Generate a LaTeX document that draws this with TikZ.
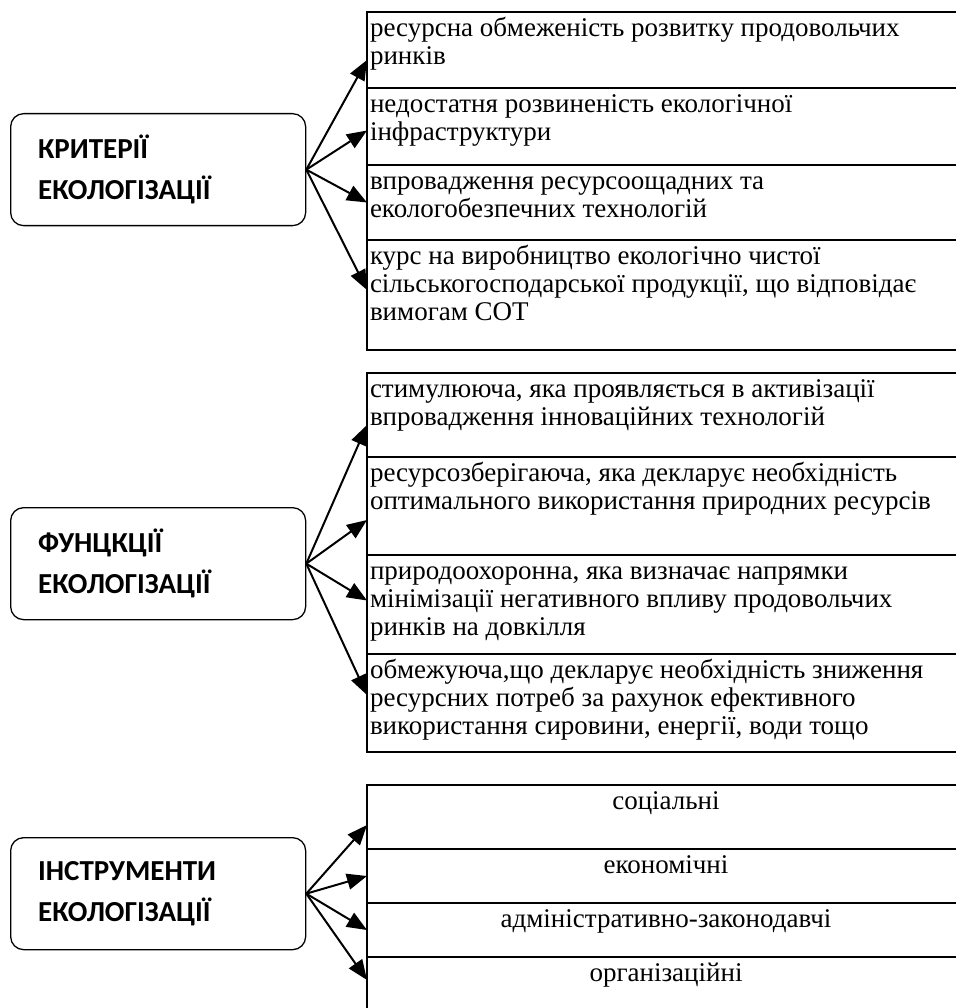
\documentclass[tikz,border=0pt]{standalone}
\usepackage{fontspec}
\setmainfont{Liberation Serif}
\newfontfamily\headfont{Carlito}
\usetikzlibrary{positioning,arrows.meta}

\newcommand{\boxtext}[2]{\parbox[c][#1][t]{592pt}{\vspace*{5pt}\strut #2}}
\newcommand{\boxmid}[2]{\parbox[c][#1][t]{592pt}{\centering\vspace*{5pt}\strut #2}}

\begin{document}
\begin{tikzpicture}[x=1pt,y=-1pt,
    head/.style={draw, line width=1.3pt, rounded corners=13pt, anchor=north west,
      minimum width=295pt, minimum height=112pt, text width=240pt, align=left,
      font=\headfont\bfseries\fontsize{29}{41}\selectfont},
    item/.style={draw, line width=1.5pt, inner xsep=3pt, inner ysep=0pt, outer sep=0pt,
      font=\fontsize{27}{28}\selectfont},
    arr/.style={-{Triangle[length=20pt,width=16pt]}, line width=2pt}]
    \path[use as bounding box] (0,0) rectangle (955,1008);

    \node[head] (krit) at (10,113) {КРИТЕРІЇ\\ЕКОЛОГІЗАЦІЇ};
    \node[item, anchor=north west] (k1) at (367,12) {\boxtext{76pt}{ресурсна обмеженість розвитку продовольчих\\ринків}};
    \node[item, below=0pt of k1] (k2) {\boxtext{77pt}{недостатня розвиненість екологічної\\інфраструктури}};
    \node[item, below=0pt of k2] (k3) {\boxtext{75pt}{впровадження ресурсоощадних та\\екологобезпечних технологій}};
    \node[item, below=0pt of k3] (k4) {\boxtext{110pt}{курс на виробництво екологічно чистої\\сільськогосподарської продукції, що відповідає\\вимогам СОТ}};
    \draw[arr] (krit.east) -- ([yshift=-10pt]k1.west);
    \draw[arr] (krit.east) -- ([yshift=-4pt]k2.west);
    \draw[arr] (krit.east) -- (k3.west);
    \draw[arr] (krit.east) -- ([yshift=5pt]k4.west);

    \node[head] (funk) at (10,507) {ФУНЦКЦІЇ\\ЕКОЛОГІЗАЦІЇ};
    \node[item, anchor=north west] (f1) at (367,373) {\boxtext{84pt}{стимулююча, яка проявляється в активізації\\впровадження інноваційних технологій}};
    \node[item, below=0pt of f1] (f2) {\boxtext{98pt}{ресурсозберігаюча, яка декларує необхідність\\оптимального використання природних ресурсів}};
    \node[item, below=0pt of f2] (f3) {\boxtext{99pt}{природоохоронна, яка визначає напрямки\\мінімізації негативного впливу продовольчих\\ринків на довкілля}};
    \node[item, below=0pt of f3] (f4) {\boxtext{98pt}{обмежуюча,що декларує необхідність зниження\\ресурсних потреб за рахунок ефективного\\використання сировини, енергії, води тощо}};
    \draw[arr] (funk.east) -- ([yshift=-10pt]f1.west);
    \draw[arr] (funk.east) -- ([yshift=-14pt]f2.west);
    \draw[arr] (funk.east) -- ([yshift=4pt]f3.west);
    \draw[arr] (funk.east) -- ([yshift=8pt]f4.west);

    \node[head] (instr) at (10,837) {ІНСТРУМЕНТИ\\ЕКОЛОГІЗАЦІЇ};
    \node[item, anchor=north west] (i1) at (367,785) {\boxmid{64pt}{соціальні}};
    \node[item, below=0pt of i1] (i2) {\boxmid{54pt}{економічні}};
    \node[item, below=0pt of i2] (i3) {\boxmid{54pt}{адміністративно-законодавчі}};
    \node[item, below=0pt of i3] (i4) {\boxmid{64pt}{організаційні}};
    \draw[arr] (instr.east) -- ([yshift=-8pt]i1.west);
    \draw[arr] (instr.east) -- (i2.west);
    \draw[arr] (instr.east) -- (i3.west);
    \draw[arr] (instr.east) -- ([yshift=9pt]i4.west);
\end{tikzpicture}
\end{document}
